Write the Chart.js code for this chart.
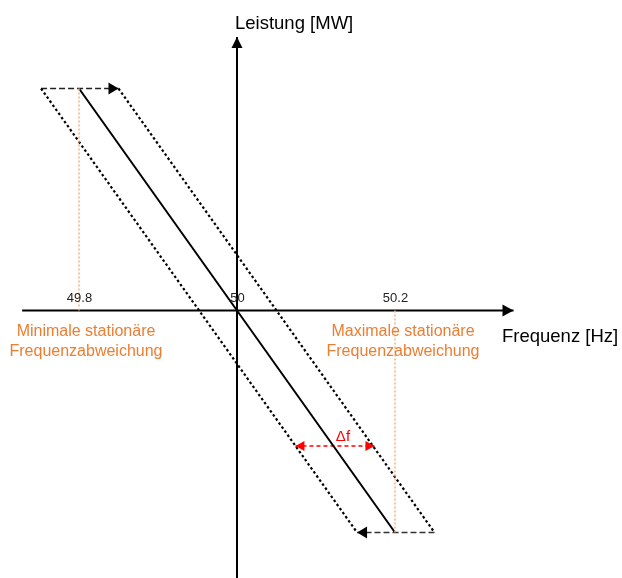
<!DOCTYPE html>
<html>
<head>
<meta charset="utf-8">
<script src="https://cdn.jsdelivr.net/npm/chart.js@4/dist/chart.umd.min.js"></script>
<style>
  html, body { margin: 0; padding: 0; background: #fff; }
  canvas { display: block; }
</style>
</head>
<body>
<canvas id="c" width="622" height="578"></canvas>
<script>
// ---- data (frequency in Hz, power in relative units) ----
const freqTicks = [49.8, 50, 50.2];
const tickLabels = ['49.8', '50', '50.2'];
const droopF = [49.8, 50.2];
const droopP = [1, -1];
const lowerBandF = [49.752, 50.152];
const upperBandF = [49.85, 50.25];
const bandP = [1, -1];
const deltaF = [50.074, 50.174];
const deltaP = [-0.61, -0.61];
const xAxisF = [49.728, 50.35];
const yAxisP = [-1.25, 1.232];
const xRange = [49.7, 50.48734];
const yRange = [-1.20495, 1.39865];
const axisTitles = ['Frequenz [Hz]', 'Leistung [MW]'];
const bandLabels = [['Minimale stationäre', 'Frequenzabweichung'], ['Maximale stationäre', 'Frequenzabweichung']];
const deltaLabel = 'Δf';

const pts = (xs, ys) => xs.map((x, i) => ({ x: x, y: ys[i] }));
const base = { showLine: true, pointRadius: 0, pointHoverRadius: 0, fill: false, tension: 0 };

const datasets = [
  Object.assign({}, base, { data: pts([freqTicks[0], freqTicks[0]], [bandP[0], 0]), borderColor: '#F4B183', borderWidth: 1.5, borderDash: [2, 2] }),
  Object.assign({}, base, { data: pts([freqTicks[2], freqTicks[2]], [0, bandP[1]]), borderColor: '#F4B183', borderWidth: 1.5, borderDash: [2, 2] }),
  Object.assign({}, base, { data: pts(xAxisF, [0, 0]), borderColor: '#000', borderWidth: 2 }),
  Object.assign({}, base, { data: pts([freqTicks[1], freqTicks[1]], yAxisP), borderColor: '#000', borderWidth: 2 }),
  Object.assign({}, base, { data: pts(lowerBandF, bandP), borderColor: '#000', borderWidth: 2.2, borderDash: [2.5, 2.5] }),
  Object.assign({}, base, { data: pts(upperBandF, bandP), borderColor: '#000', borderWidth: 2.2, borderDash: [2.5, 2.5] }),
  Object.assign({}, base, { data: pts([lowerBandF[0], upperBandF[0]], [bandP[0], bandP[0]]), borderColor: '#222', borderWidth: 1.6, borderDash: [6, 3] }),
  Object.assign({}, base, { data: pts([upperBandF[1], lowerBandF[1]], [bandP[1], bandP[1]]), borderColor: '#333', borderWidth: 1.6, borderDash: [6, 3] }),
  Object.assign({}, base, { data: pts(droopF, droopP), borderColor: '#000', borderWidth: 2 }),
  Object.assign({}, base, { data: pts(deltaF, deltaP), borderColor: '#FF0000', borderWidth: 1.5, borderDash: [4, 3] })
];

function arrow(ctx, x, y, dx, dy, len, half, color) {
  const n = Math.hypot(dx, dy); const ux = dx / n, uy = dy / n;
  const bx = x - ux * len, by = y - uy * len;
  ctx.beginPath();
  ctx.moveTo(x, y);
  ctx.lineTo(bx - uy * half, by + ux * half);
  ctx.lineTo(bx + uy * half, by - ux * half);
  ctx.closePath();
  ctx.fillStyle = color;
  ctx.fill();
}

const decor = {
  id: 'decor',
  afterDatasetsDraw(chart) {
    const ctx = chart.ctx, xs = chart.scales.x, ys = chart.scales.y;
    const X = v => xs.getPixelForValue(v), Y = v => ys.getPixelForValue(v);
    ctx.save();
    // arrowheads
    arrow(ctx, X(xAxisF[1]), Y(0), 1, 0, 11, 6, '#000');
    arrow(ctx, X(freqTicks[1]), Y(yAxisP[1]), 0, -1, 11, 5.5, '#000');
    arrow(ctx, X(upperBandF[0]), Y(bandP[0]), 1, 0, 10, 6, '#000');
    arrow(ctx, X(lowerBandF[1]), Y(bandP[1]), -1, 0, 10, 6, '#000');
    arrow(ctx, X(deltaF[0]), Y(deltaP[0]), -1, 0, 9, 5, '#FF0000');
    arrow(ctx, X(deltaF[1]), Y(deltaP[1]), 1, 0, 9, 5, '#FF0000');
    // tick labels
    ctx.fillStyle = '#222';
    ctx.font = '13px "Liberation Sans", Arial, sans-serif';
    ctx.textAlign = 'center';
    ctx.textBaseline = 'alphabetic';
    freqTicks.forEach((f, i) => ctx.fillText(tickLabels[i], X(f) + 0.5, Y(0) - 9));
    // axis titles
    ctx.fillStyle = '#000';
    ctx.font = '18.5px "Liberation Sans", Arial, sans-serif';
    ctx.textAlign = 'left';
    ctx.fillText(axisTitles[1], X(freqTicks[1]) - 2, 29);
    ctx.fillText(axisTitles[0], 502, Y(0) + 31.5);
    // band labels
    ctx.fillStyle = '#ED7D31';
    ctx.font = '16px "Liberation Sans", Arial, sans-serif';
    ctx.textAlign = 'center';
    [X(freqTicks[0]) + 7, X(freqTicks[2]) + 8].forEach((cx, i) => {
      ctx.fillText(bandLabels[i][0], cx, Y(0) + 25);
      ctx.fillText(bandLabels[i][1], cx, Y(0) + 45);
    });
    // delta label
    ctx.fillStyle = '#FF0000';
    ctx.font = '15px "Liberation Sans", Arial, sans-serif';
    ctx.fillText(deltaLabel, (X(deltaF[0]) + X(deltaF[1])) / 2 + 8, Y(deltaP[0]) - 5);
    ctx.restore();
  }
};

new Chart(document.getElementById('c'), {
  type: 'scatter',
  data: { datasets: datasets },
  options: {
    responsive: false,
    animation: false,
    devicePixelRatio: 1,
    layout: { padding: 0 },
    plugins: { legend: { display: false }, tooltip: { enabled: false } },
    events: [],
    scales: {
      x: { type: 'linear', min: xRange[0], max: xRange[1], display: false },
      y: { type: 'linear', min: yRange[0], max: yRange[1], display: false }
    }
  },
  plugins: [decor]
});
</script>
</body>
</html>
